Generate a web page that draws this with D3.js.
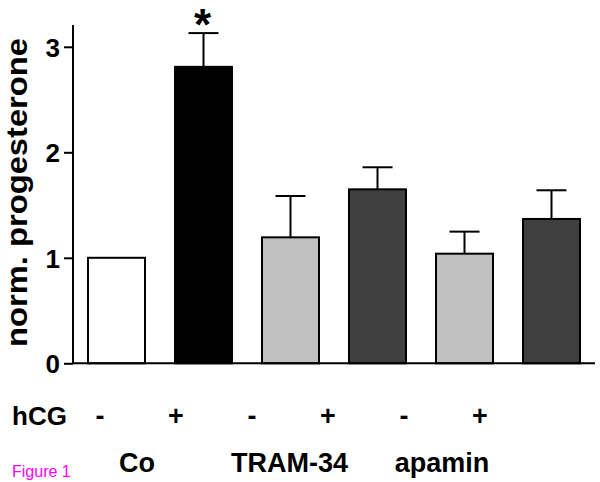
<!DOCTYPE html>
<html><head><meta charset="utf-8">
<script src="https://cdn.jsdelivr.net/npm/d3@7"></script>
<style>body{margin:0;background:#fff;} svg{display:block;}</style>
</head><body>
<script>
const categories = ["Co-", "Co+", "TRAM-", "TRAM+", "apamin-", "apamin+"];
const values = [1.0, 2.81, 1.194, 1.649, 1.039, 1.368];
const errorTops = [null, 3.13, 1.586, 1.858, 1.248, 1.64];
const fills = ["#ffffff", "#000000", "#c0c0c0", "#404040", "#c0c0c0", "#404040"];
const hcgSigns = ["-", "+", "-", "+", "-", "+"];
const groupLabels = ["Co", "TRAM-34", "apamin"];
const yTicks = [0, 1, 2, 3];

const W = 600, H = 482;
const svg = d3.select("body").append("svg").attr("width", W).attr("height", H);
const font = "'Liberation Sans', Arial, Helvetica, sans-serif";

const y = d3.scaleLinear().domain([0, 3]).range([363.3, 46.8]);
const x = d3.scaleBand().domain(categories).range([73, 595]).paddingInner(0.345).paddingOuter(0.1725);

// bars
svg.selectAll("rect.bar").data(values).join("rect")
  .attr("x", (d, i) => x(categories[i]))
  .attr("y", d => y(d))
  .attr("width", x.bandwidth())
  .attr("height", d => y(0) - y(d))
  .attr("fill", (d, i) => fills[i])
  .attr("stroke", "#000").attr("stroke-width", 2);

// error bars
const eb = svg.append("g");
errorTops.forEach((e, i) => {
  if (e == null) return;
  const cx = x(categories[i]) + x.bandwidth() / 2;
  eb.append("line").attr("x1", cx).attr("x2", cx).attr("y1", y(values[i])).attr("y2", y(e))
    .attr("stroke", "#000").attr("stroke-width", 2);
  eb.append("line").attr("x1", cx - 15).attr("x2", cx + 15).attr("y1", y(e)).attr("y2", y(e))
    .attr("stroke", "#000").attr("stroke-width", 2);
});

// asterisk
svg.append("text").attr("x", x("Co+") + x.bandwidth() / 2 - 1).attr("y", 40)
  .attr("text-anchor", "middle").attr("font-family", font).attr("font-weight", "bold")
  .attr("font-size", 44).text("*");

// y axis
const yAxis = d3.axisLeft(y).tickValues(yTicks).tickSize(9).tickFormat(d3.format("d"));
const ga = svg.append("g").attr("transform", "translate(73,0)").call(yAxis);
ga.select(".domain").remove();
ga.selectAll(".tick line").attr("stroke", "#000").attr("stroke-width", 2);
ga.selectAll(".tick text").attr("font-family", font).attr("font-weight", "bold")
  .attr("font-size", 26).attr("fill", "#000").attr("x", -13).attr("dy", "0.36em");
svg.append("line").attr("x1", 73).attr("x2", 73).attr("y1", 25).attr("y2", y(0))
  .attr("stroke", "#000").attr("stroke-width", 2);
// baseline
svg.append("line").attr("x1", 72).attr("x2", 595).attr("y1", y(0)).attr("y2", y(0))
  .attr("stroke", "#000").attr("stroke-width", 2);

// y label
svg.append("text").attr("transform", "translate(27,192.5) rotate(-90)")
  .attr("text-anchor", "middle").attr("font-family", font).attr("font-weight", "bold")
  .attr("font-size", 30).attr("textLength", 309).attr("lengthAdjust", "spacingAndGlyphs")
  .text("norm. progesterone");

// hCG row
svg.append("text").attr("x", 12).attr("y", 425).attr("font-family", font).attr("font-weight", "bold")
  .attr("font-size", 26).text("hCG");
const signX = d3.scalePoint().domain(categories).range([100, 480]);
svg.selectAll("text.sign").data(hcgSigns).join("text")
  .attr("x", (d, i) => signX(categories[i])).attr("y", 425)
  .attr("text-anchor", "middle").attr("font-family", font).attr("font-weight", "bold")
  .attr("font-size", 27).text(d => d);

const groupX = d3.scalePoint().domain(groupLabels).range([137, 442]);
svg.selectAll("text.grp").data(groupLabels).join("text")
  .attr("x", d => groupX(d)).attr("y", 472)
  .attr("text-anchor", "middle").attr("font-family", font).attr("font-weight", "bold")
  .attr("font-size", 27).text(d => d);

svg.append("text").attr("x", 12).attr("y", 477).attr("font-family", font)
  .attr("font-size", 16).attr("fill", "#ff00ff").text("Figure 1");
</script>
</body></html>
